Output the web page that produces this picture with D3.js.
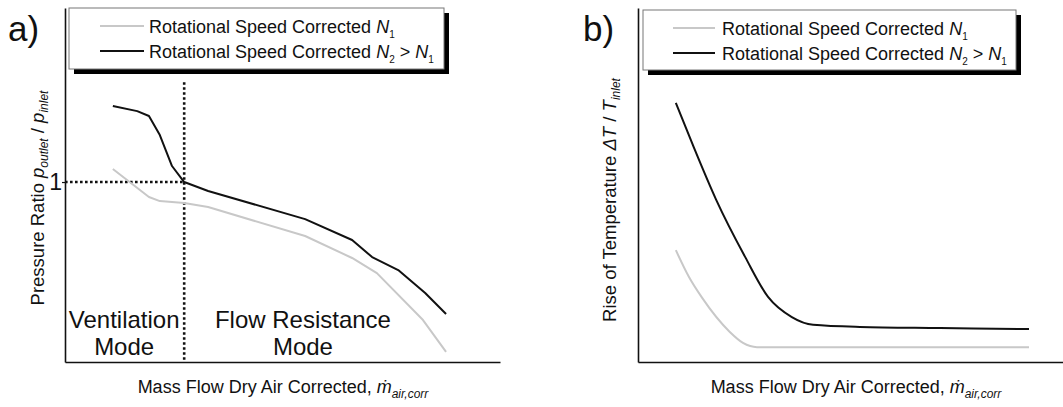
<!DOCTYPE html>
<html>
<head>
<meta charset="utf-8">
<script src="https://cdn.jsdelivr.net/npm/d3@7"></script>
<style>
  body { margin: 0; background: #fff; }
  text { font-family: "Liberation Sans", Arial, sans-serif; fill: #111; }
</style>
</head>
<body>
<div id="chart"></div>
<script>
// ---- data (normalised mass flow 0..100) ----
// panel a: pressure ratio p_outlet / p_inlet
const flowA_N1 = [11.0, 19.3, 21.8, 27.4, 32.9, 55.2, 66.0, 71.7, 82.3, 87.6];
const ratioA_N1 = [1.072, 0.917, 0.894, 0.883, 0.861, 0.70, 0.578, 0.494, 0.233, 0.056];
const flowA_N2 = [11.0, 16.6, 19.3, 21.8, 24.6, 27.4, 32.9, 55.2, 66.0, 70.6, 76.6, 82.8, 87.6];
const ratioA_N2 = [1.422, 1.394, 1.367, 1.261, 1.089, 1.0, 0.95, 0.794, 0.678, 0.583, 0.511, 0.383, 0.267];
const ventilationLimit = 27.4;   // flow where ratio == 1
const ratioTicks = [1];

// panel b: temperature rise dT / T_inlet (arbitrary units)
const flowB_N1 = [8.9, 12.0, 15.1, 21.6, 24.7, 28.0, 52.2, 92.0];
const riseB_N1 = [31.6, 24.0, 18.1, 8.5, 5.4, 4.2, 4.2, 4.2];
const flowB_N2 = [8.9, 12.9, 18.4, 25.2, 30.6, 36.2, 41.2, 52.2, 71.1, 92.0];
const riseB_N2 = [73.2, 61.3, 45.8, 29.7, 18.4, 12.7, 10.5, 9.9, 9.6, 9.3];

const seriesColors = { n1: "#c8c8c8", n2: "#111111" };

const svg = d3.select("#chart").append("svg")
  .attr("width", 1063)
  .attr("height", 407);

//append text built from pieces (italic / subscript)
function richText(sel, parts, size, subSize, shift) {
  const s = shift == null ? size * 0.3 : shift;
  parts.forEach(p => {
    const ts = sel.append("tspan").text(p.t);
    if (p.i) ts.style("font-style", "italic");
    if (p.sub) {
      ts.attr("font-size", subSize).attr("dy", s);
    } else {
      ts.attr("dy", p.after ? -s : 0);
    }
  });
  return sel;
}

function drawPanel(cfg) {
  const g = svg.append("g");

  const x = d3.scaleLinear().domain([0, 100]).range(cfg.xRange);
  const y = d3.scaleLinear().domain(cfg.yDomain).range(cfg.yRange);

  // axes
  const xAxis = g.append("g")
    .attr("transform", "translate(0," + cfg.yRange[0] + ")")
    .call(d3.axisBottom(x).tickValues([]).tickSizeOuter(0));
  const yAxis = g.append("g")
    .attr("transform", "translate(" + cfg.xRange[0] + ",0)")
    .call(d3.axisLeft(y).tickValues(cfg.yTicks).tickFormat(d3.format("d")).tickSize(3).tickSizeOuter(0));
  [xAxis, yAxis].forEach(a => a.select(".domain").attr("stroke", "#111").attr("stroke-width", 1.6));
  yAxis.selectAll(".tick line").attr("stroke", "#111").attr("stroke-width", 1.2);
  yAxis.selectAll(".tick text")
    .attr("font-size", 23)
    .attr("x", -3)
    .attr("fill", "#111")
    .style("font-family", "Liberation Sans, Arial, sans-serif");

  // dotted guide lines
  if (cfg.guide) {
    g.append("line")
      .attr("x1", x(cfg.guide.x)).attr("x2", x(cfg.guide.x))
      .attr("y1", y(cfg.guide.top)).attr("y2", y(cfg.yDomain[0]))
      .attr("stroke", "#111").attr("stroke-width", 2.6).attr("stroke-dasharray", "2.6,2.4");
    g.append("line")
      .attr("x1", x(0)).attr("x2", x(cfg.guide.x))
      .attr("y1", y(cfg.guide.y)).attr("y2", y(cfg.guide.y))
      .attr("stroke", "#111").attr("stroke-width", 2.6).attr("stroke-dasharray", "2.6,2.4");
  }

  // curves
  const line = d3.line()
    .x(d => x(d[0]))
    .y(d => y(d[1]))
    .curve(cfg.curve);
  cfg.series.forEach(s => {
    g.append("path")
      .datum(d3.zip(s.xs, s.ys))
      .attr("d", line)
      .attr("fill", "none")
      .attr("stroke", s.color)
      .attr("stroke-width", 2)
      .attr("stroke-linejoin", "round");
  });

  // panel letter
  g.append("text")
    .attr("x", cfg.letterX).attr("y", 41)
    .attr("font-size", 35)
    .text(cfg.letter);

  // x label
  const xl = g.append("text")
    .attr("x", cfg.xLabelX).attr("y", 393)
    .attr("text-anchor", "middle")
    .attr("font-size", 18);
  richText(xl, [
    { t: "Mass Flow Dry Air Corrected, " },
    { t: "ṁ", i: true },
    { t: "air,corr", i: true, sub: true }
  ], 18, 12);

  // y label
  const yl = g.append("text")
    .attr("transform", "translate(" + cfg.yLabelX + "," + cfg.yLabelY + ")rotate(-90)")
    .attr("text-anchor", "middle")
    .attr("font-size", 18.5);
  richText(yl, cfg.yLabel, 18.5, 12, 4);

  // legend with drop shadow
  const L = cfg.legend;
  g.append("rect")
    .attr("x", L.x + 5).attr("y", L.y + 5)
    .attr("width", L.w).attr("height", L.h)
    .attr("fill", "#000");
  g.append("rect")
    .attr("x", L.x).attr("y", L.y)
    .attr("width", L.w).attr("height", L.h)
    .attr("fill", "#fff")
    .attr("stroke", "#777").attr("stroke-width", 1);

  const legendItems = [
    { color: seriesColors.n1, parts: [
      { t: "Rotational Speed Corrected " }, { t: "N", i: true }, { t: "1", sub: true }] },
    { color: seriesColors.n2, parts: [
      { t: "Rotational Speed Corrected " }, { t: "N", i: true }, { t: "2", sub: true },
      { t: " > ", after: true }, { t: "N", i: true }, { t: "1", sub: true }] }
  ];
  legendItems.forEach((it, i) => {
    const yy = L.y + 18 + i * 25;
    g.append("line")
      .attr("x1", L.x + L.lineX0).attr("x2", L.x + L.lineX1)
      .attr("y1", yy).attr("y2", yy)
      .attr("stroke", it.color).attr("stroke-width", 2);
    const t = g.append("text")
      .attr("x", L.x + L.textX).attr("y", yy + 7)
      .attr("font-size", 18);
    richText(t, it.parts, 18, 10, 5);
  });

  // annotations
  (cfg.notes || []).forEach(n => {
    const t = g.append("text")
      .attr("x", x(n.x)).attr("y", n.y)
      .attr("text-anchor", "middle")
      .attr("font-size", 24);
    n.lines.forEach((ln, i) => {
      t.append("tspan").attr("x", x(n.x)).attr("dy", i ? 27 : 0).text(ln);
    });
  });
}

drawPanel({
  letter: "a)", letterX: 8,
  xRange: [65, 500], yRange: [362, 8], yDomain: [0, 1.967], yTicks: ratioTicks,
  curve: d3.curveLinear,
  series: [
    { xs: flowA_N1, ys: ratioA_N1, color: seriesColors.n1 },
    { xs: flowA_N2, ys: ratioA_N2, color: seriesColors.n2 }
  ],
  guide: { x: ventilationLimit, y: 1, top: 1.555 },
  xLabelX: 283, yLabelX: 44, yLabelY: 198,
  yLabel: [
    { t: "Pressure Ratio " }, { t: "p", i: true }, { t: "outlet", i: true, sub: true },
    { t: " / ", after: true }, { t: "p", i: true }, { t: "inlet", i: true, sub: true }
  ],
  legend: { x: 69, y: 8, w: 375, h: 61, lineX0: 31, lineX1: 75, textX: 80 },
  notes: [
    { x: 13.6, y: 328, lines: ["Ventilation", "Mode"] },
    { x: 54.7, y: 328, lines: ["Flow Resistance", "Mode"] }
  ]
});

drawPanel({
  letter: "b)", letterX: 583,
  xRange: [638, 1063], yRange: [362, 8], yDomain: [0, 100], yTicks: [],
  curve: d3.curveMonotoneX,
  series: [
    { xs: flowB_N1, ys: riseB_N1, color: seriesColors.n1 },
    { xs: flowB_N2, ys: riseB_N2, color: seriesColors.n2 }
  ],
  xLabelX: 856, yLabelX: 616, yLabelY: 200,
  yLabel: [
    { t: "Rise of Temperature " }, { t: "ΔT", i: true }, { t: " / " }, { t: "T", i: true },
    { t: "inlet", i: true, sub: true }
  ],
  legend: { x: 643, y: 10, w: 373, h: 60, lineX0: 30, lineX1: 72, textX: 79 }
});
</script>
</body>
</html>
